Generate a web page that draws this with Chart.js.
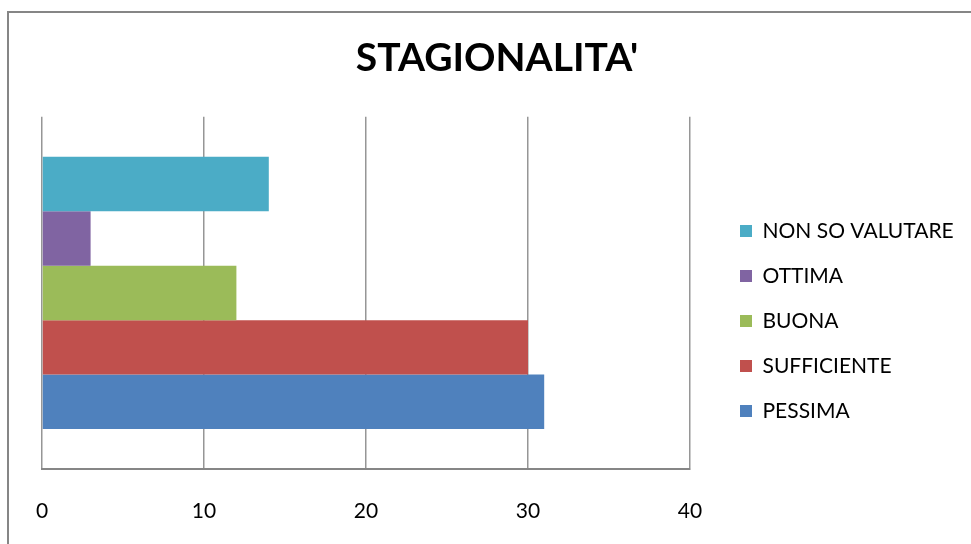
<!DOCTYPE html>
<html>
<head>
<meta charset="utf-8">
<script src="https://cdn.jsdelivr.net/npm/chart.js@4.4.1/dist/chart.umd.min.js"></script>
<style>
  html, body { margin: 0; padding: 0; background: #fff; }
  #wrap { position: relative; width: 971px; height: 544px; }
  #frame {
    position: absolute; left: 7px; top: 11px; right: -10px; bottom: -10px;
    border-top: 2px solid #868686; border-left: 2px solid #868686;
  }
  #chart { position: absolute; left: 0; top: 0; }
</style>
</head>
<body>
<div id="wrap">
  <div id="frame"></div>
  <canvas id="chart" width="971" height="544"></canvas>
</div>
<script>
// Chart data
const title = "STAGIONALITA'";
const categories = [''];
const seriesNames = ['NON SO VALUTARE', 'OTTIMA', 'BUONA', 'SUFFICIENTE', 'PESSIMA'];
const seriesValues = [14, 3, 12, 30, 31];
const seriesColors = ['#4BACC6', '#8064A2', '#9BBB59', '#C0504D', '#4F81BD'];
const xTicks = [0, 10, 20, 30, 40];

const fontFamily = 'Lato, "Open Sans", sans-serif';

// Legend sits a bit away from the plot, like the original
const legendShift = {
    id: 'legendShift',
    beforeInit(chart) {
        const fit = chart.legend.fit;
        chart.legend.fit = function() {
            fit.call(this);
            this.width = 262;
        };
    },
    afterLayout(chart) {
        const lg = chart.legend;
        lg.left += 26; lg.right += 26;
        lg.top += 60; lg.bottom += 60;
    }
};

const ctx = document.getElementById('chart').getContext('2d');
new Chart(ctx, {
    type: 'bar',
    data: {
        labels: categories,
        datasets: seriesNames.map((name, i) => ({
            label: name,
            data: [seriesValues[i]],
            backgroundColor: seriesColors[i],
            borderWidth: 0,
            categoryPercentage: 0.773,
            barPercentage: 1
        }))
    },
    options: {
        indexAxis: 'y',
        responsive: false,
        animation: false,
        layout: { padding: { left: 42, right: 19, top: 0, bottom: 22 } },
        plugins: {
            title: {
                display: true,
                text: title,
                color: '#000',
                font: { family: fontFamily, size: 39, weight: 'bold' },
                padding: { top: 35, bottom: 35 }
            },
            legend: {
                position: 'right',
                labels: {
                    color: '#000',
                    font: { family: fontFamily, size: 21 },
                    boxWidth: 12,
                    boxHeight: 12,
                    padding: 24
                }
            },
            tooltip: { enabled: false }
        },
        scales: {
            x: {
                min: xTicks[0],
                max: xTicks[xTicks.length - 1],
                afterBuildTicks: axis => { axis.ticks = xTicks.map(v => ({ value: v })); },
                afterFit: axis => { axis.height = 53; },
                ticks: {
                    color: '#000',
                    font: { family: fontFamily, size: 21 },
                    padding: 30,
                    maxRotation: 0
                },
                grid: { color: '#969696', lineWidth: 1.5, drawTicks: false },
                border: { color: '#868686', width: 2 }
            },
            y: { display: false }
        }
    },
    plugins: [legendShift]
});
</script>
</body>
</html>
